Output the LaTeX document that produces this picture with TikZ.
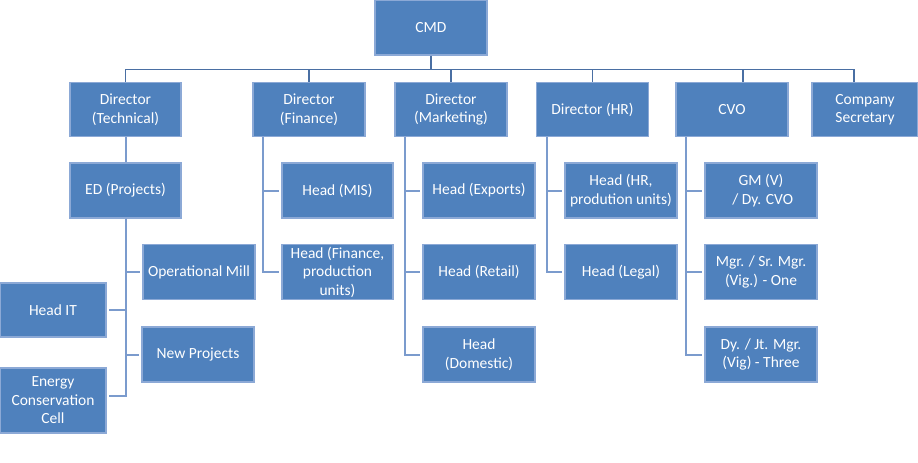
\documentclass[tikz,border=0pt]{standalone}
\usepackage{fontspec}
\setmainfont{Carlito}
\usepackage{xcolor}
\definecolor{boxfill}{HTML}{4F81BD}
\definecolor{boxline}{HTML}{8CA9D6}
\definecolor{busline}{HTML}{4A6FA3}
\definecolor{branchline}{HTML}{7B9BCD}

\begin{document}
\begin{tikzpicture}[x=1pt,y=-1pt]
  \tikzset{unit/.style={draw=boxline,fill=boxfill,line width=1.3pt,text=white,align=center,
      minimum width=112pt,minimum height=55pt,inner sep=1pt,font=\fontsize{15.5}{18.5}\selectfont},
    bus/.style={draw=busline,line width=1.5pt},
    branch/.style={draw=branchline,line width=2pt}}
  \useasboundingbox (0,0) rectangle (918,463);
  \node[unit] (cmd) at (431,27.5) {CMD};
  \node[unit,minimum width=111pt,minimum height=54pt] (tech) at (125.5,109.5) {Director\\(Technical)};
  \node[unit,minimum height=54pt] (fin) at (309,109.5) {Director\\(Finance)};
  \node[unit,minimum height=54pt] (mkt) at (451,109.5) {Director\\(Marketing)};
  \node[unit,minimum height=54pt] (hr) at (592.5,109.5) {Director (HR)};
  \node[unit,minimum height=54pt] (cvo) at (732,109.5) {CVO};
  \node[unit,minimum width=106pt,minimum height=54pt] (cs) at (865,109.5) {Company\\Secretary};
  \node[unit,minimum width=111pt] (ed) at (125.5,190.5) {ED (Projects)};
  \node[unit,minimum width=111pt] (mis) at (337.5,190.5) {Head (MIS)};
  \node[unit] (exp) at (479,190.5) {Head (Exports)};
  \node[unit] (hrpu) at (621,190.5) {Head (HR,\\prodution units)};
  \node[unit] (gm) at (761,190.5) {GM (V)\\\ / Dy. CVO};
  \node[unit] (mill) at (199,272) {Operational Mill};
  \node[unit,minimum width=111pt] (hfin) at (337.5,272) {Head (Finance,\\production\\units)};
  \node[unit] (ret) at (479,272) {Head (Retail)};
  \node[unit] (leg) at (621,272) {Head (Legal)};
  \node[unit] (mgr) at (761,272) {Mgr. / Sr. Mgr.\\(Vig.) - One};
  \node[unit] (newp) at (198,354.5) {New Projects};
  \node[unit] (dom) at (479,354.5) {Head\\(Domestic)};
  \node[unit] (dyjt) at (761,354.5) {Dy. / Jt. Mgr.\\(Vig) - Three};
  \node[unit,minimum width=106pt,minimum height=54pt] (hit) at (53,310) {Head IT};
  \node[unit,minimum width=106pt,minimum height=65pt] (ecc) at (53,400.5) {Energy\\Conservation\\Cell};
  \draw[bus] (cmd.south) -- ++(0,14) coordinate (top);
  \foreach \d in {tech,fin,mkt,hr} \draw[bus] (top) -| (\d.north);
  \draw[bus] (top) -| ([xshift=11pt]cvo.north);
  \draw[bus] (top) -| ([xshift=-11pt]cs.north);
  \draw[branch] (tech) -- (ed);
  \foreach \c in {mill,newp} \draw[branch] (ed.south) |- ([xshift=-2pt]\c.west);
  \draw[branch] (ed.south) |- ([xshift=2pt]hit.east);
  \draw[branch] (ed.south) |- ([xshift=2pt,yshift=5pt]ecc.east);
  \foreach \p/\c in {fin/mis,fin/hfin,mkt/exp,mkt/ret,mkt/dom,hr/hrpu,hr/leg,cvo/gm,cvo/mgr,cvo/dyjt}
    \draw[branch] ([xshift=11pt]\p.south west) |- ([xshift=-2pt]\c.west);
\end{tikzpicture}
\end{document}
